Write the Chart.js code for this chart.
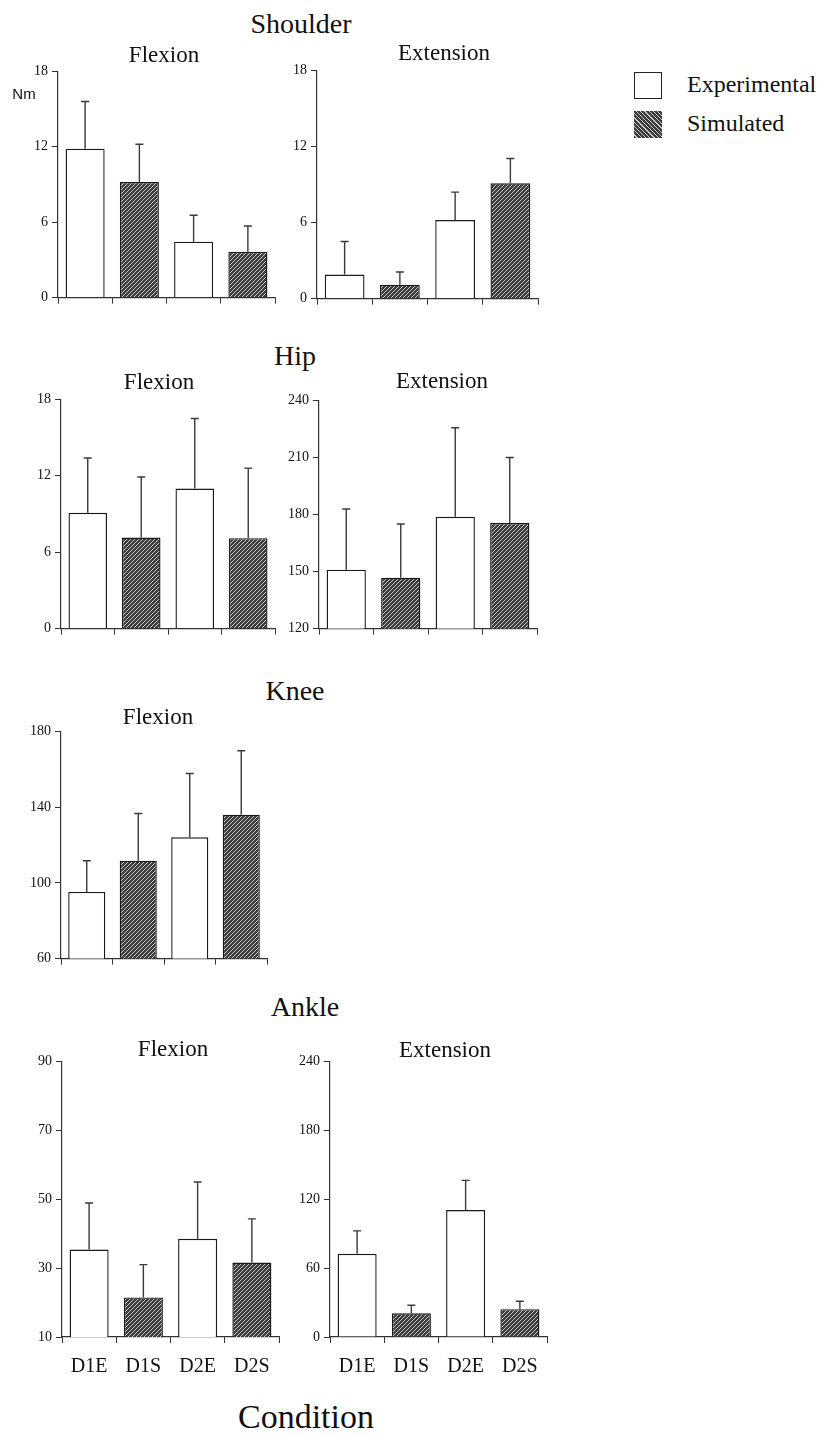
<!DOCTYPE html>
<html lang="en">
<head>
    <meta charset="UTF-8">
    <title>Joint moments by condition</title>
    <script src="https://cdn.jsdelivr.net/npm/chart.js"></script>
    <style>
        body { margin: 0; background: #fff; }
        #page { position: relative; width: 828px; height: 1434px; overflow: hidden; font-family: 'Liberation Serif', 'Times New Roman', serif; color: #111; }
        canvas { position: absolute; }
        .lbl { position: absolute; line-height: 1; white-space: nowrap; transform: translateX(-50%); }
        .sw { position: absolute; width: 26px; height: 25px; border: 1.5px solid #222; }
    </style>
</head>
<body>
<div id="page"></div>
<script>
    // categories and data
    const categories = ['D1E', 'D1S', 'D2E', 'D2S'];
    const barKind = ['Experimental', 'Simulated', 'Experimental', 'Simulated'];

    const shoulderFlexMean = [11.85, 9.2, 4.45, 3.65];
    const shoulderFlexSD   = [3.75, 3.0, 2.1, 2.05];
    const shoulderExtMean  = [1.9, 1.1, 6.2, 9.1];
    const shoulderExtSD    = [2.6, 1.0, 2.2, 1.95];
    const hipFlexMean      = [9.1, 7.15, 11.0, 7.1];
    const hipFlexSD        = [4.3, 4.75, 5.5, 5.5];
    const hipExtMean       = [151, 146.8, 178.8, 175.5];
    const hipExtSD         = [31.9, 28.2, 46.8, 34.5];
    const kneeFlexMean     = [95.2, 111.7, 124.1, 136];
    const kneeFlexSD       = [16.5, 24.9, 33.7, 33.8];
    const ankleFlexMean    = [35.4, 21.5, 38.5, 31.6];
    const ankleFlexSD      = [13.5, 9.5, 16.5, 12.7];
    const ankleExtMean     = [72.5, 20.7, 110.5, 24.2];
    const ankleExtSD       = [19.9, 6.9, 25.9, 6.9];

    // y tick labels per panel
    const shoulderTicks = [0, 6, 12, 18];
    const hipFlexTicks  = [0, 6, 12, 18];
    const hipExtTicks   = [120, 150, 180, 210, 240];
    const kneeTicks     = [60, 100, 140, 180];
    const ankleFlexTicks = [10, 30, 50, 70, 90];
    const ankleExtTicks  = [0, 60, 120, 180, 240];

    const page = document.getElementById('page');
    const serif = "'Liberation Serif', 'Times New Roman', serif";

    // hatched fill for the simulated bars
    function hatch() {
        const c = document.createElement('canvas');
        c.width = 4; c.height = 4;
        const g = c.getContext('2d');
        g.fillStyle = '#3c3c3c';
        g.fillRect(0, 0, 4, 4);
        g.fillStyle = '#c8c8c8';
        g.fillRect(3, 0, 1, 1);
        g.fillRect(2, 1, 1, 1);
        g.fillRect(1, 2, 1, 1);
        g.fillRect(0, 3, 1, 1);
        return g.createPattern(c, 'repeat');
    }

    const errorBars = {
        id: 'errorBars',
        afterDatasetsDraw(chart) {
            const ctx = chart.ctx;
            const y = chart.scales.y;
            const sd = chart.data.datasets[0].sd;
            const means = chart.data.datasets[0].data;
            chart.getDatasetMeta(0).data.forEach((bar, i) => {
                const top = y.getPixelForValue(means[i] + sd[i]);
                ctx.save();
                ctx.strokeStyle = '#3a3a3a';
                ctx.lineWidth = 1.4;
                ctx.beginPath();
                ctx.moveTo(bar.x, bar.y);
                ctx.lineTo(bar.x, top);
                ctx.moveTo(bar.x - 4, top);
                ctx.lineTo(bar.x + 4, top);
                ctx.stroke();
                ctx.restore();
            });
        }
    };

    function text(str, cx, baseline, size, extra) {
        const d = document.createElement('div');
        d.className = 'lbl';
        d.textContent = str;
        d.style.left = cx + 'px';
        d.style.top = (baseline - 0.89 * size) + 'px';
        d.style.fontSize = size + 'px';
        if (extra) Object.assign(d.style, extra);
        page.appendChild(d);
    }

    function panel(mean, sd, ticks, box, showX) {
        const W = 50, padTop = 10, padRight = 12;
        const xH = showX ? 45 : 10;
        const cv = document.createElement('canvas');
        const w = W + (box.right - box.x) + padRight;
        const h = padTop + (box.bottom - box.top) + xH;
        cv.width = w; cv.height = h;
        cv.style.left = (box.x - W) + 'px';
        cv.style.top = (box.top - padTop) + 'px';
        page.appendChild(cv);
        const fill = hatch();
        new Chart(cv.getContext('2d'), {
            type: 'bar',
            data: {
                labels: categories,
                datasets: [{
                    data: mean,
                    sd: sd,
                    backgroundColor: barKind.map(k => k === 'Simulated' ? fill : '#ffffff'),
                    borderColor: '#1a1a1a',
                    borderWidth: 1.4,
                    borderSkipped: 'bottom',
                    barPercentage: 0.72,
                    categoryPercentage: 1
                }]
            },
            options: {
                responsive: false,
                animation: false,
                devicePixelRatio: 1,
                layout: { padding: { top: padTop, right: padRight, left: 0, bottom: 0 } },
                plugins: { legend: { display: false }, tooltip: { enabled: false } },
                scales: {
                    x: {
                        grid: { drawOnChartArea: false, drawTicks: true, tickLength: 6, color: '#333', offset: true },
                        border: { display: true, color: '#333', width: 1.2 },
                        ticks: { display: showX, color: '#111', padding: 12, font: { family: serif, size: 20 } },
                        afterFit: s => { s.height = xH; }
                    },
                    y: {
                        min: ticks[0],
                        max: ticks[ticks.length - 1],
                        ticks: { stepSize: ticks[1] - ticks[0], color: '#111', padding: 4, font: { family: serif, size: 14 } },
                        grid: { drawOnChartArea: false, drawTicks: true, tickLength: 6, color: '#333' },
                        border: { display: true, color: '#333', width: 1.2 },
                        afterFit: s => { s.width = W; }
                    }
                }
            },
            plugins: [errorBars]
        });
    }

    // panels
    panel(shoulderFlexMean, shoulderFlexSD, shoulderTicks, { x: 58, top: 69, bottom: 300, right: 275 }, false);
    panel(shoulderExtMean, shoulderExtSD, shoulderTicks, { x: 317, top: 68, bottom: 301, right: 538 }, false);
    panel(hipFlexMean, hipFlexSD, hipFlexTicks, { x: 61, top: 397, bottom: 631, right: 275 }, false);
    panel(hipExtMean, hipExtSD, hipExtTicks, { x: 319, top: 398, bottom: 631, right: 537 }, false);
    panel(kneeFlexMean, kneeFlexSD, kneeTicks, { x: 61, top: 729, bottom: 961, right: 267 }, false);
    panel(ankleFlexMean, ankleFlexSD, ankleFlexTicks, { x: 62, top: 1059, bottom: 1337, right: 279 }, true);
    panel(ankleExtMean, ankleExtSD, ankleExtTicks, { x: 330, top: 1059, bottom: 1337, right: 547 }, true);

    // titles
    text('Shoulder', 301, 35, 28);
    text('Hip', 295, 367, 28);
    text('Knee', 295, 702, 28);
    text('Ankle', 305, 1018, 28);
    text('Flexion', 164, 63, 23);
    text('Extension', 444, 61, 23);
    text('Flexion', 159, 390, 23);
    text('Extension', 442, 389, 23);
    text('Flexion', 158, 725, 23);
    text('Flexion', 173, 1057, 23);
    text('Extension', 445, 1058, 23);
    text('Condition', 306, 1430, 34);
    text('Nm', 24, 99, 15, { fontFamily: "'Liberation Sans', Arial, sans-serif" });

    // legend
    const sw1 = document.createElement('div');
    sw1.className = 'sw';
    sw1.style.left = '634px'; sw1.style.top = '72px'; sw1.style.background = '#fff';
    page.appendChild(sw1);
    const sw2 = document.createElement('div');
    sw2.className = 'sw';
    sw2.style.left = '634px'; sw2.style.top = '111px';
    sw2.style.border = 'none'; sw2.style.width = '28px'; sw2.style.height = '27px';
    sw2.style.background = 'repeating-linear-gradient(45deg, #3c3c3c 0 2px, #c8c8c8 2px 3px)';
    page.appendChild(sw2);
    text('Experimental', 687, 93, 24, { transform: 'none' });
    text('Simulated', 687, 132, 24, { transform: 'none' });
</script>
</body>
</html>
